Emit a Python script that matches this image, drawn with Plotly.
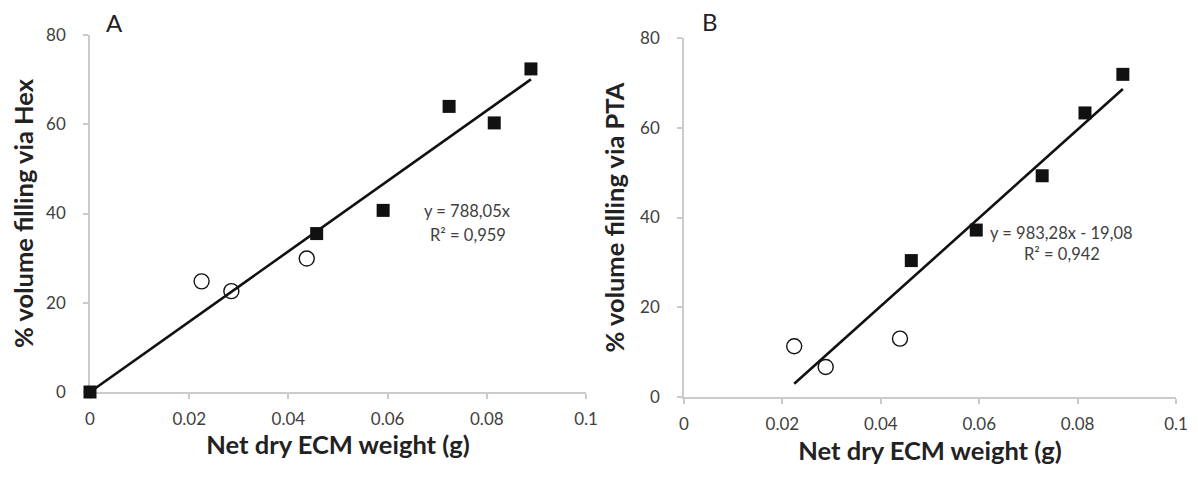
import plotly.graph_objects as go

# ---- data ----
hex_open_x = [0.0225, 0.0285, 0.0437]
hex_open_y = [24.8, 22.6, 29.9]
hex_fill_x = [0.0, 0.0457, 0.0591, 0.0724, 0.0815, 0.0889]
hex_fill_y = [0.0, 35.5, 40.7, 64.0, 60.3, 72.4]
hex_slope, hex_icpt = 788.05, 0.0
hex_eq = ["y = 788,05x", "R² = 0,959"]

pta_open_x = [0.0224, 0.0288, 0.0439]
pta_open_y = [11.3, 6.7, 13.0]
pta_fill_x = [0.0462, 0.0594, 0.0728, 0.0815, 0.0892]
pta_fill_y = [30.4, 37.2, 49.3, 63.3, 71.9]
pta_slope, pta_icpt = 983.28, -19.08
pta_eq = ["y = 983,28x - 19,08", "R² = 0,942"]

x_ticks = [0, 0.02, 0.04, 0.06, 0.08, 0.1]
x_ticktext = ["0", "0.02", "0.04", "0.06", "0.08", "0.1"]
y_ticks = [0, 20, 40, 60, 80]

FONT = "Lato"
TICKCOL = "#404040"
AXCOL = "#cfcaca"

# page body has an 8px default margin: figure is offset by (8, 8)
VW, VH = 1198, 479
OX, OY = 8, 8
W, H = VW - OX, VH - OY

def px_x(p):
    return (p - OX) / W

def px_y(p):
    return 1 - (p - OY) / H

fig = go.Figure()

def add_panel(xa, ya, ox, oy, fx, fy, slope, icpt):
    allx = list(ox) + list(fx)
    fitx = [min(allx), max(allx)]
    fity = [slope * v + icpt for v in fitx]
    fig.add_trace(go.Scatter(x=fitx, y=fity, mode="lines",
                             line=dict(color="#111111", width=2.6),
                             xaxis=xa, yaxis=ya, showlegend=False, cliponaxis=False))
    fig.add_trace(go.Scatter(x=ox, y=oy, mode="markers",
                             marker=dict(symbol="circle-open", size=15, color="#111111",
                                         line=dict(width=1.4, color="#111111")),
                             xaxis=xa, yaxis=ya, showlegend=False, cliponaxis=False))
    fig.add_trace(go.Scatter(x=fx, y=fy, mode="markers",
                             marker=dict(symbol="square", size=13, color="#111111"),
                             xaxis=xa, yaxis=ya, showlegend=False, cliponaxis=False))

add_panel("x", "y", hex_open_x, hex_open_y, hex_fill_x, hex_fill_y, hex_slope, hex_icpt)
add_panel("x2", "y2", pta_open_x, pta_open_y, pta_fill_x, pta_fill_y, pta_slope, pta_icpt)

def xaxis_cfg(x0, x1, anchor, tstand):
    return dict(domain=[px_x(x0), px_x(x1)], range=[0, 0.1], anchor=anchor, automargin=False,
                tickvals=x_ticks, ticktext=x_ticktext, showgrid=False, zeroline=False,
                showline=True, linecolor=AXCOL, linewidth=1.5, layer="below traces",
                ticks="outside", ticklen=5, tickcolor=AXCOL, tickwidth=1.5,
                tickfont=dict(family=FONT, size=17, color=TICKCOL),
                ticklabelstandoff=6,
                title=dict(text="<b>Net dry ECM weight (g)</b>",
                           font=dict(family=FONT, size=25.5, color="#222222"), standoff=tstand))

def yaxis_cfg(y0, y1, anchor, title, tstand):
    return dict(domain=[px_y(y1), px_y(y0)], range=[0, 80], anchor=anchor, automargin=False,
                tickvals=y_ticks, showgrid=False, zeroline=False,
                showline=True, linecolor=AXCOL, linewidth=1.5, layer="below traces",
                ticks="outside", ticklen=5, tickcolor=AXCOL, tickwidth=1.5,
                tickfont=dict(family=FONT, size=17, color=TICKCOL),
                ticklabelstandoff=14,
                title=dict(text="<b>" + title + "</b>",
                           font=dict(family=FONT, size=25.5, color="#222222"), standoff=tstand))

fig.update_layout(
    width=W, height=H,
    margin=dict(l=0, r=0, t=0, b=0, autoexpand=False),
    paper_bgcolor="white", plot_bgcolor="white",
    xaxis=xaxis_cfg(90, 586, "y", 6),
    yaxis=yaxis_cfg(35, 392, "x", "% volume filling via Hex", 7),
    xaxis2=xaxis_cfg(684, 1176, "y2", 9),
    yaxis2=yaxis_cfg(38, 397, "x2", "% volume filling via PTA", 8),
)

ann_font = dict(family=FONT, size=16.5, color=TICKCOL)
fig.add_annotation(x=px_x(114), y=px_y(23), xref="paper", yref="paper", text="A",
                   xanchor="center", yanchor="middle",
                   showarrow=False, font=dict(family=FONT, size=24, color="#222222"))
fig.add_annotation(x=px_x(710), y=px_y(22), xref="paper", yref="paper", text="B",
                   xanchor="center", yanchor="middle",
                   showarrow=False, font=dict(family=FONT, size=24, color="#222222"))

for txt, yv in zip(hex_eq, [40.6, 35.2]):
    fig.add_annotation(x=0.0762, y=yv, xref="x", yref="y", text=txt, showarrow=False,
                       xanchor="center", yanchor="middle", font=ann_font)
for txt, yv in zip(pta_eq, [36.6, 31.8]):
    fig.add_annotation(x=0.0768, y=yv, xref="x2", yref="y2", text=txt, showarrow=False,
                       xanchor="center", yanchor="middle", font=ann_font)

fig.write_html("out.html")
